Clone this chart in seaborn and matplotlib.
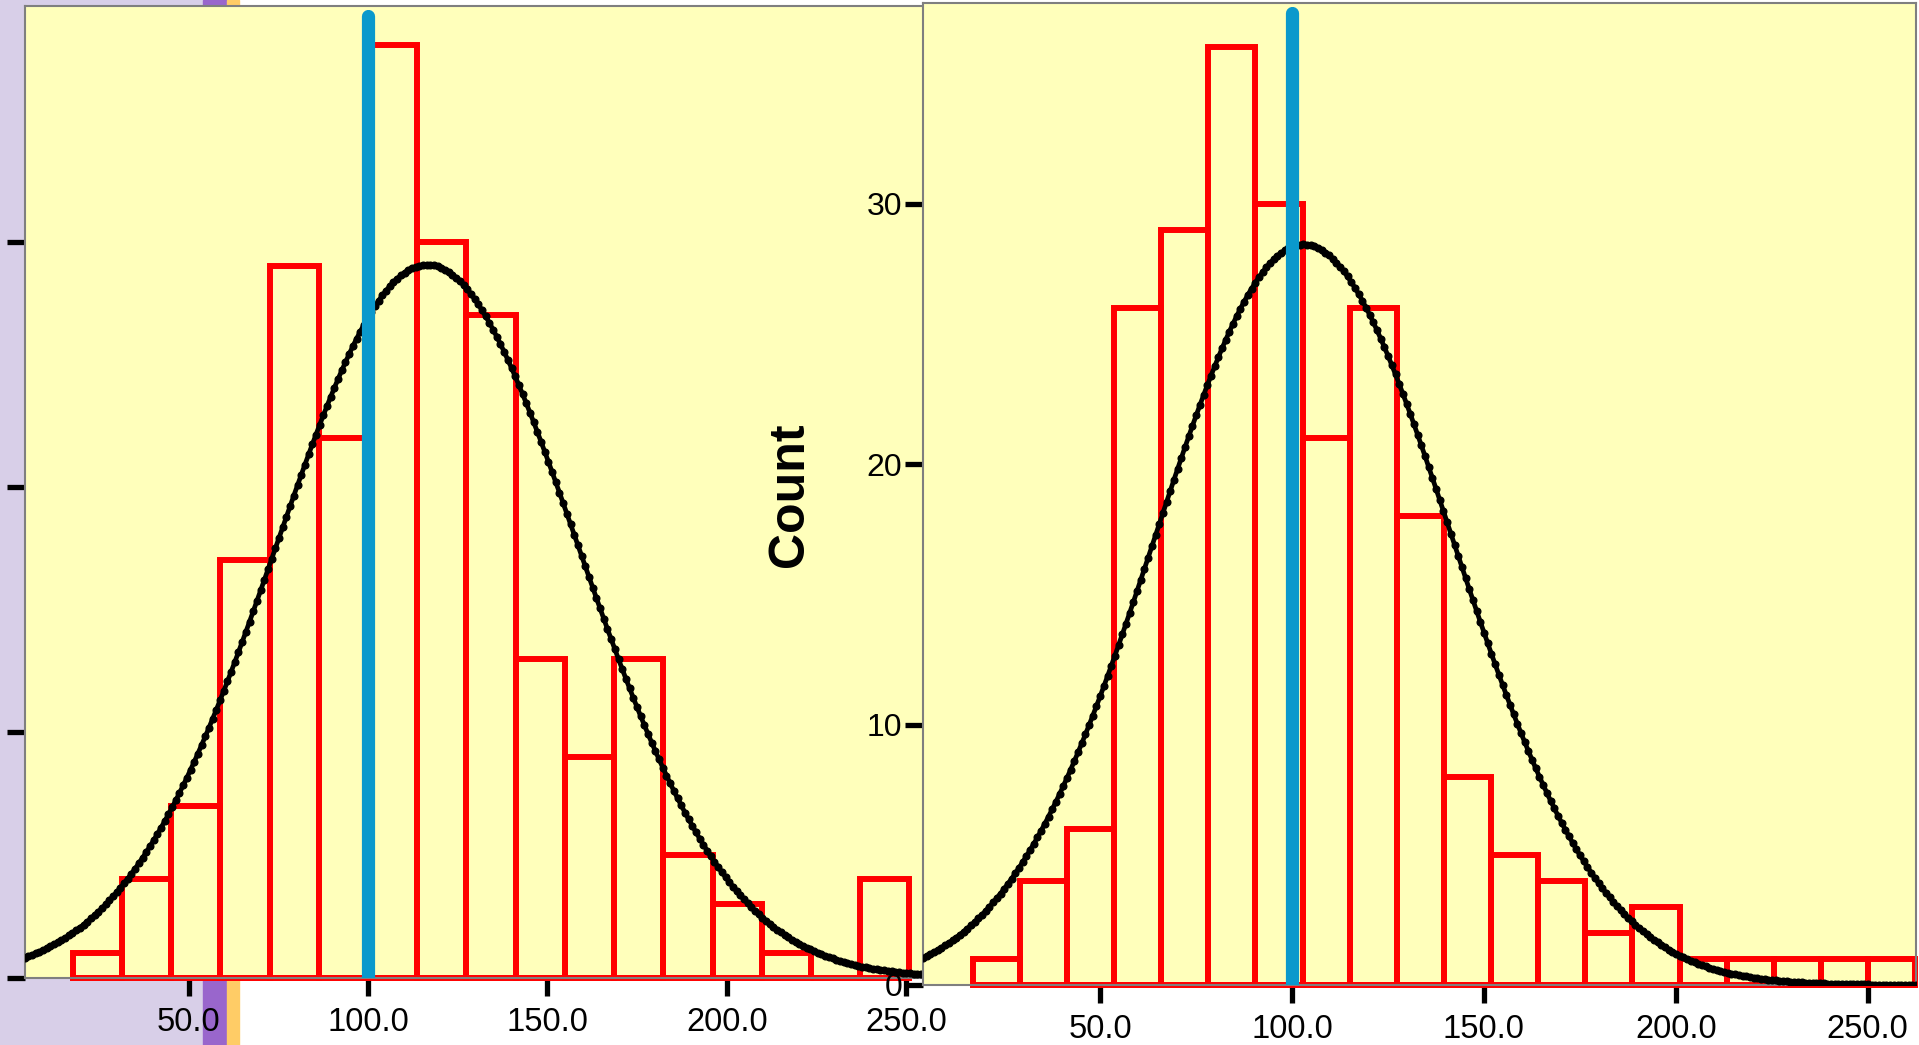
import numpy as np
import pandas as pd
import matplotlib
matplotlib.use('Agg')
import matplotlib.pyplot as plt
import seaborn as sns
from matplotlib.patches import Rectangle

# bin counts (left panel partly hidden)
left_start = 17.68
left_width = 13.72
left_counts = [1, 4, 7, 17, 29, 22, 38, 30, 27, 13, 9, 13, 5, 3, 1, 0, 4]
left_mean = 116.5
left_sd = 42.0

right_start = 16.8
right_width = 12.28
right_counts = [1, 4, 6, 26, 29, 36, 30, 21, 26, 18, 8, 5, 4, 2, 3, 1, 1, 1, 1, 1]
right_mean = 103.0
right_sd = 38.6

ref_value = 100.0
x_ticks = [50, 100, 150, 200, 250]
y_ticks = [0, 10, 20, 30]

sns.set_style('ticks')
plt.rcParams['font.family'] = ['Liberation Sans', 'DejaVu Sans']

BG = '#FFFFBB'
RED = '#FF0000'
BLUE = '#0A99CC'


def draw_panel(ax, start, width, counts, mean, sd, xlim, ylim, line_top):
    edges = [start + width * k for k in range(len(counts) + 1)]
    mids = [e + width / 2 for e in edges[:-1]]
    df = pd.DataFrame({'mid': mids, 'count': counts})
    df = df[df['count'] > 0]
    sns.histplot(data=df, x='mid', weights='count', bins=edges, fill=False,
                 color=RED, linewidth=4.3, clip_on=False, ax=ax)
    ax.set_xlim(*xlim)
    ax.set_ylim(*ylim)

    # normal curve scaled to counts
    n = sum(counts)
    xs = np.linspace(xlim[0], xlim[1], 270)
    ys = n * width * np.exp(-0.5 * ((xs - mean) / sd) ** 2) / (sd * np.sqrt(2 * np.pi))
    ax.plot(xs, ys, color='black', lw=3.4, marker='o', ms=4.8, zorder=3)

    ax.plot([ref_value, ref_value], [0, line_top], color=BLUE, lw=9.5,
            solid_capstyle='round', zorder=4)

    ax.set_facecolor(BG)
    for s in ax.spines.values():
        s.set_color('#7f7f7f')
        s.set_linewidth(1.5)
    ax.set_xticks(x_ticks)
    ax.set_xticklabels([f'{t:.1f}' for t in x_ticks])
    ax.set_yticks(y_ticks)
    ax.tick_params(axis='both', length=13, width=3.8, color='black',
                   labelcolor='black')
    ax.tick_params(axis='x', labelsize=23.5, pad=8)
    ax.tick_params(axis='y', labelsize=23, pad=2)
    ax.set_xlabel('')
    ax.set_ylabel('')


fig = plt.figure(figsize=(19.19, 10.45), dpi=100)

# strips of the window behind the charts
fig.add_artist(Rectangle((0, 0), 203 / 1919, 1, transform=fig.transFigure,
                         color='#D8CFE8', zorder=-2))
fig.add_artist(Rectangle((203 / 1919, 0), 24 / 1919, 1, transform=fig.transFigure,
                         color='#9966CC', zorder=-2))
fig.add_artist(Rectangle((227 / 1919, 0), 12 / 1919, 1, transform=fig.transFigure,
                         color='#FFCC66', zorder=-2))

ax1 = fig.add_axes([24.5 / 1919, 67.4 / 1045, 992.5 / 1919, 971.6 / 1045])
draw_panel(ax1, left_start, left_width, left_counts, left_mean, left_sd,
           (4.26, 280.9), (0, 39.6), 39.2)
ax1.set_yticklabels([])

ax2 = fig.add_axes([923 / 1919, 60 / 1045, 993 / 1919, 982 / 1045])
draw_panel(ax2, right_start, right_width, right_counts, right_mean, right_sd,
           (3.86, 262.6), (0, 37.7), 37.3)
ax2.set_ylabel('Count', fontsize=36, fontweight='bold', va='center', ha='center',
               color='black')
ax2.yaxis.set_label_coords(-0.134, 0.499)

fig.savefig('out.png', dpi=100)
